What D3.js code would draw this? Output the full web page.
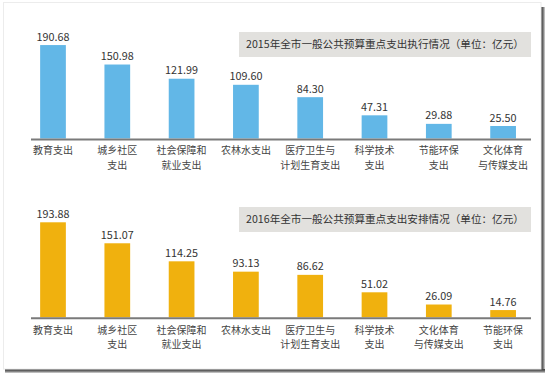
<!DOCTYPE html>
<html><head><meta charset="utf-8">
<script src="https://cdn.jsdelivr.net/npm/d3@7/dist/d3.min.js"></script>
<style>
html,body{margin:0;padding:0;background:#fff;}
svg{display:block;}
text{font-family:"Noto Sans CJK SC","Noto Sans",sans-serif;}
</style></head>
<body>
<script>
// ---- Data ----
const categories2015 = [["教育支出"],["城乡社区","支出"],["社会保障和","就业支出"],["农林水支出"],["医疗卫生与","计划生育支出"],["科学技术","支出"],["节能环保","支出"],["文化体育","与传媒支出"]];
const values2015 = [190.68,150.98,121.99,109.60,84.30,47.31,29.88,25.50];
const title2015 = "2015年全市一般公共预算重点支出执行情况（单位：亿元）";

const categories2016 = [["教育支出"],["城乡社区","支出"],["社会保障和","就业支出"],["农林水支出"],["医疗卫生与","计划生育支出"],["科学技术","支出"],["文化体育","与传媒支出"],["节能环保","支出"]];
const values2016 = [193.88,151.07,114.25,93.13,86.62,51.02,26.09,14.76];
const title2016 = "2016年全市一般公共预算重点支出安排情况（单位：亿元）";

const W = 550, H = 378;
const svg = d3.select("body").append("svg").attr("width", W).attr("height", H);

// ---- frame with shadow ----
const defs = svg.append("defs");
const gr = defs.append("linearGradient").attr("id","shR").attr("x1",0).attr("x2",1).attr("y1",0).attr("y2",0);
gr.append("stop").attr("offset","0%").attr("stop-color","#3e3e3e");
gr.append("stop").attr("offset","50%").attr("stop-color","#6a6a6a");
gr.append("stop").attr("offset","100%").attr("stop-color","#d8d8d8");
const gb = defs.append("linearGradient").attr("id","shB").attr("x1",0).attr("x2",0).attr("y1",0).attr("y2",1);
gb.append("stop").attr("offset","0%").attr("stop-color","#3e3e3e");
gb.append("stop").attr("offset","50%").attr("stop-color","#6a6a6a");
gb.append("stop").attr("offset","100%").attr("stop-color","#d8d8d8");

svg.append("rect").attr("x",541).attr("y",7).attr("width",4).attr("height",366).attr("fill","url(#shR)");
svg.append("rect").attr("x",5).attr("y",369).attr("width",540).attr("height",4).attr("fill","url(#shB)");
svg.append("rect").attr("x",3.5).attr("y",2.5).attr("width",537.5).attr("height",366.5)
  .attr("fill","#fff").attr("stroke","#ececec").attr("stroke-width",1);

function panel(cats, vals, title, color, base, titleY, lab1, lab2) {
  const g = svg.append("g");
  const x = d3.scaleBand().domain(d3.range(vals.length)).range([20.85, 535.25])
    .paddingInner(0.6).paddingOuter(0.3);
  const y = d3.scaleLinear().domain([0, 200]).range([base, base - 98]);

  // title box
  g.append("rect").attr("x",239).attr("y",titleY).attr("width",292).attr("height",25).attr("fill","#e2e1de");
  g.append("text").attr("x",385).attr("y",titleY+12.8).attr("text-anchor","middle")
    .attr("dominant-baseline","middle").attr("font-size","10.6px").attr("fill","#333").text(title);

  g.selectAll("rect.bar").data(vals).join("rect").attr("class","bar")
    .attr("x",(d,i)=>x(i)).attr("width",x.bandwidth())
    .attr("y",d=>y(d)).attr("height",d=>y(0)-y(d)).attr("fill",color);

  g.selectAll("text.val").data(vals).join("text").attr("class","val")
    .attr("x",(d,i)=>x(i)+x.bandwidth()/2).attr("y",d=>y(d)-4.5)
    .attr("text-anchor","middle").attr("font-size","10.8px").attr("fill","#333")
    .attr("font-family","'Noto Sans',sans-serif")
    .text(d=>d.toFixed(2));

  // axis line
  g.append("line").attr("x1",31).attr("x2",531).attr("y1",base+1).attr("y2",base+1)
    .attr("stroke","#7a7a7a").attr("stroke-width",2);

  const labs = g.selectAll("text.cat").data(cats).join("text").attr("class","cat")
    .attr("text-anchor","middle").attr("font-size","10px").attr("fill","#444")
    .attr("y", lab1);
  labs.each(function(lines,i){
    const cx = x(i)+x.bandwidth()/2;
    d3.select(this).selectAll("tspan").data(lines).join("tspan")
      .attr("x", cx).attr("dy",(t,j)=>j===0?0:(lab2-lab1)).text(t=>t);
  });
}

panel(categories2015, values2015, title2015, "#62b7e7", 138.5, 32, 154, 168.6);
panel(categories2016, values2016, title2016, "#f0b10e", 317.3, 207, 333.5, 348.1);
</script>
</body></html>
